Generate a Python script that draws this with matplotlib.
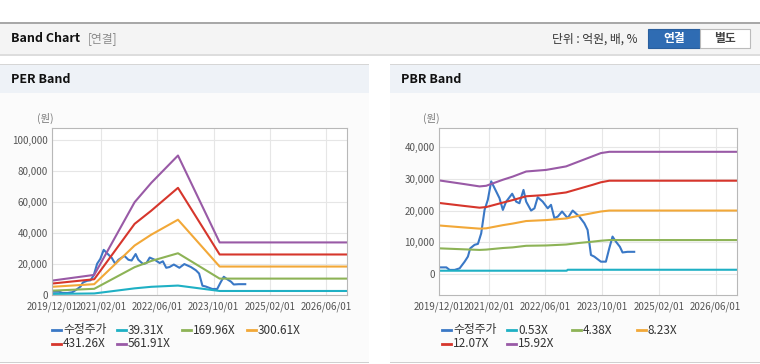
import matplotlib
matplotlib.use('Agg')
import matplotlib.pyplot as plt
from matplotlib.patches import Rectangle
from matplotlib.lines import Line2D
from matplotlib.ticker import FuncFormatter
import pandas as pd

plt.rcParams['font.family'] = ['Noto Sans CJK KR', 'DejaVu Sans']

W, H = 760, 364

# 수정주가 (same series on both charts)
price_dates = ['2019-12-01', '2020-02-02', '2020-03-01', '2020-04-13', '2020-05-26', '2020-07-08',
               '2020-08-05', '2020-08-25', '2020-10-01', '2020-10-30', '2020-11-27', '2020-12-26',
               '2021-01-23', '2021-02-21', '2021-03-21', '2021-05-03', '2021-06-01', '2021-06-29',
               '2021-08-20', '2021-09-23', '2021-10-21', '2021-11-25', '2021-12-18', '2022-01-29',
               '2022-02-27', '2022-03-27', '2022-05-09', '2022-06-21', '2022-07-19', '2022-08-17',
               '2022-09-15', '2022-10-22', '2022-12-09', '2023-01-21', '2023-03-19', '2023-05-01',
               '2023-05-29', '2023-06-27', '2023-07-25', '2023-09-20', '2023-11-02', '2023-12-01',
               '2023-12-29', '2024-01-27', '2024-03-01', '2024-03-24', '2024-05-06', '2024-07-02']
price = [2100, 2100, 1300, 1300, 1800, 3900, 5500, 8100, 9200, 9500, 12800, 20200,
         23400, 29200, 27100, 23900, 20200, 22800, 25300, 22800, 22300, 26500, 22800, 20000,
         20700, 24200, 22800, 20700, 21800, 17600, 18100, 19700, 17600, 20000, 18100, 16000,
         13900, 6000, 5500, 3900, 3900, 8100, 11800, 10200, 8600, 6800, 7000, 7000]

# PER band
per_dates = ['2019-12-01', '2020-12-01', '2021-11-16', '2022-04-09', '2022-11-27', '2023-11-23', '2026-12-01']
per_39 = [700, 1000, 4300, 5300, 6100, 2600, 2600]
per_170 = [2800, 4000, 18000, 22000, 27000, 10600, 10600]
per_301 = [5300, 7000, 32000, 39000, 48700, 18400, 18400]
per_431 = [7400, 10200, 46000, 54500, 69300, 26200, 26200]
per_562 = [9300, 13000, 60000, 72500, 90200, 34000, 34000]
per_labels = ['수정주가', '39.31X', '169.96X', '300.61X', '431.26X', '561.91X']

# PBR band
pbr_dates = ['2019-12-01', '2020-06-23', '2020-11-13', '2021-01-09', '2021-06-01', '2021-08-25', '2021-12-18',
             '2022-06-07', '2022-11-25', '2023-03-19', '2023-07-11', '2023-09-20', '2023-12-01', '2026-12-01']
pbr_053_dates = ['2019-12-01', '2022-12-01', '2022-12-09', '2026-12-01']
pbr_053 = [1050, 1050, 1350, 1350]
pbr_438 = [8100, 7800, 7600, 7700, 8200, 8400, 8900, 9000, 9300, 9800, 10200, 10500, 10700, 10700]
pbr_823 = [15300, 14700, 14300, 14400, 15400, 15900, 16700, 17000, 17500, 18400, 19200, 19700, 20000, 20000]
pbr_1207 = [22400, 21500, 20900, 21100, 22500, 23300, 24500, 24900, 25700, 26900, 28100, 28900, 29400, 29400]
pbr_1592 = [29500, 28400, 27600, 27800, 29700, 30700, 32300, 32800, 33900, 35500, 37100, 38100, 38500, 38500]
pbr_labels = ['수정주가', '0.53X', '4.38X', '8.23X', '12.07X', '15.92X']

x_ticks = ['2019/12/01', '2021/02/01', '2022/06/01', '2023/10/01', '2025/02/01', '2026/06/01']

colors = ['#3a78c6', '#1fb0c4', '#8db356', '#f2a838', '#d6362c', '#995aa6']


def fx(x):
    return x / W


def fy(y):
    return 1 - y / H


def rect(x0, y0, x1, y1, **kw):
    fig.patches.append(Rectangle((fx(x0), fy(y1)), (x1 - x0) / W, (y1 - y0) / H,
                                 transform=fig.transFigure, figure=fig, zorder=-5, **kw))


fig = plt.figure(figsize=(W / 100, H / 100), dpi=100)
fig.patch.set_facecolor('white')

# top header bar
rect(0, 22, 760, 55, facecolor='#f4f4f4', edgecolor='none')
rect(0, 22, 760, 23.5, facecolor='#a8a8a8', edgecolor='none')
rect(0, 54, 760, 56, facecolor='#dddddd', edgecolor='none')
fig.text(fx(11), fy(39), 'Band Chart', fontsize=9, fontweight='bold', color='#111111', va='center')
fig.text(fx(88), fy(39), '[연결]', fontsize=8.5, color='#8a8a8a', va='center')
fig.text(fx(552), fy(39), '단위 : 억원, 배, %', fontsize=8.5, color='#333333', va='center')
rect(648, 29, 700, 48, facecolor='#2f6cb3', edgecolor='#2a5f9e', lw=0.8)
fig.text(fx(674), fy(38.5), '연결', fontsize=8.5, fontweight='bold', color='white', va='center', ha='center')
rect(700, 29, 750, 48, facecolor='white', edgecolor='#bbbbbb', lw=0.8)
fig.text(fx(725), fy(38.5), '별도', fontsize=8.5, fontweight='bold', color='#444444', va='center', ha='center')

# panels
for px0, px1, title in [(0, 369, 'PER Band'), (390, 760, 'PBR Band')]:
    rect(px0, 64, px1, 362, facecolor='#fbfbfb', edgecolor='none')
    rect(px0, 64, px1, 65, facecolor='#d6d6d6', edgecolor='none')
    rect(px0, 65, px1, 93, facecolor='#eef2f7', edgecolor='none')
    rect(px0, 361.5, px1, 363, facecolor='#d0d0d0', edgecolor='none')
    fig.text(fx(px0 + 11), fy(79.5), title, fontsize=9, fontweight='bold', color='#111111', va='center')


def setup(ax, yticks, ylim, unit_x):
    ax.set_facecolor('white')
    ax.set_xlim(pd.Timestamp('2019-12-01'), pd.Timestamp('2026-12-01'))
    ax.set_ylim(*ylim)
    ax.set_xticks(pd.to_datetime(x_ticks))
    ax.set_xticklabels(x_ticks)
    ax.set_yticks(yticks)
    ax.yaxis.set_major_formatter(FuncFormatter(lambda v, p: f'{v:,.0f}'))
    ax.grid(True, color='#e6e6e6', lw=0.8)
    ax.set_axisbelow(True)
    for s in ax.spines.values():
        s.set_color('#b8b8b8')
        s.set_linewidth(0.8)
    ax.tick_params(length=0, labelsize=7, labelcolor='#555555', pad=3)
    ax.tick_params(axis='x', pad=5)
    fig.text(fx(unit_x), fy(118), '(원)', fontsize=7.5, color='#777777', va='center')


def legend(labels, x0):
    for i, lab in enumerate(labels):
        r, c = divmod(i, 4)
        x = x0 + c * 65
        y = 330 + r * 13.5
        fig.add_artist(Line2D([fx(x), fx(x + 9)], [fy(y), fy(y)], color=colors[i], lw=2,
                              transform=fig.transFigure))
        fig.text(fx(x + 11), fy(y), lab, fontsize=8.5, color='#333333', va='center')


# PER chart
ax1 = fig.add_axes([fx(52), fy(295), (347 - 52) / W, (295 - 128) / H])
setup(ax1, range(0, 100001, 20000), (0, 108000), 37)
ax1.plot(pd.to_datetime(price_dates), price, color=colors[0], lw=1.5)
for vals, c in zip([per_39, per_170, per_301, per_431, per_562], colors[1:]):
    ax1.plot(pd.to_datetime(per_dates), vals, color=c, lw=1.5)
legend(per_labels, 52)

# PBR chart
ax2 = fig.add_axes([fx(439), fy(295), (737 - 439) / W, (295 - 128) / H])
setup(ax2, range(0, 40001, 10000), (-6600, 46000), 423)
ax2.plot(pd.to_datetime(price_dates), price, color=colors[0], lw=1.5)
ax2.plot(pd.to_datetime(pbr_053_dates), pbr_053, color=colors[1], lw=1.5)
for vals, c in zip([pbr_438, pbr_823, pbr_1207, pbr_1592], colors[2:]):
    ax2.plot(pd.to_datetime(pbr_dates), vals, color=c, lw=1.5)
legend(pbr_labels, 442)

fig.savefig('out.png', dpi=100)
